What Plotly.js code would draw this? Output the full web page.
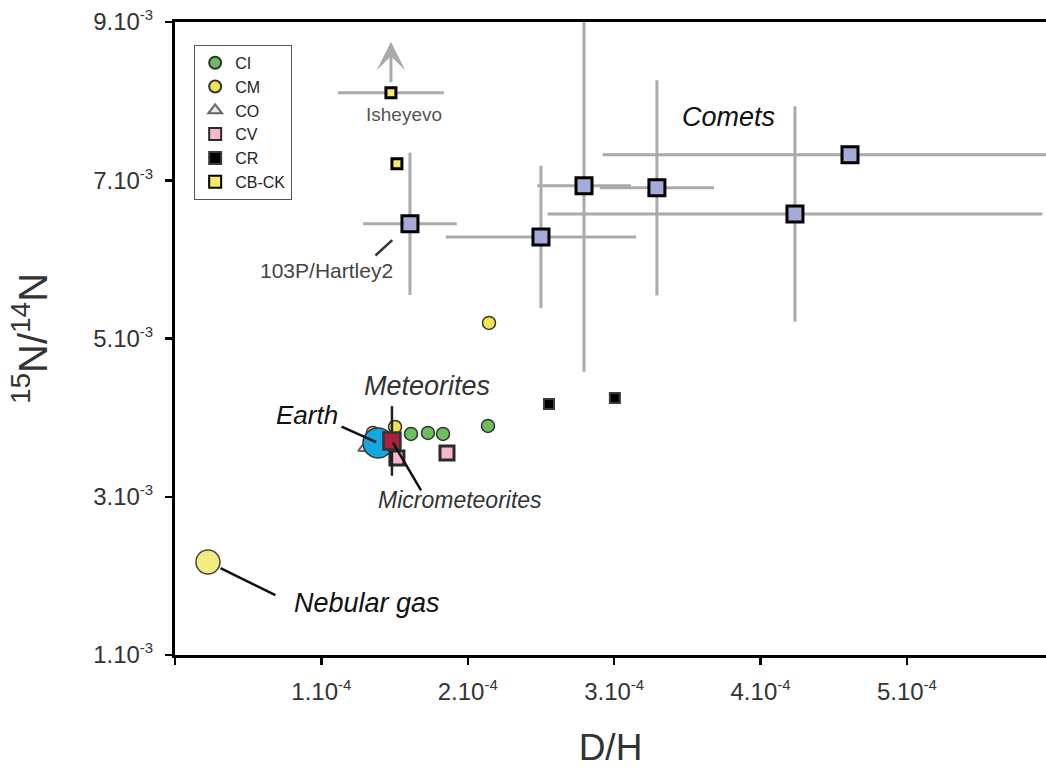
<!DOCTYPE html>
<html>
<head>
<meta charset="utf-8">
<script src="https://cdn.plot.ly/plotly-3.0.1.min.js"></script>
<style>html,body{margin:0;padding:0;background:#fff;}#chart{width:1046px;height:768px;}</style>
</head>
<body>
<div id="chart"></div>
<script>
// ---- data (D/H, 15N/14N) ----
const ciDH = [1.612e-4, 1.728e-4, 1.831e-4, 2.138e-4];
const ciN  = [3.794e-3, 3.807e-3, 3.794e-3, 3.895e-3];
const cmDH = [2.145e-4, 1.352e-4, 1.503e-4];
const cmN  = [5.197e-3, 3.807e-3, 3.882e-3];
const coDH = [1.298e-4];
const coN  = [3.617e-3];
const cvDH = [1.858e-4, 1.516e-4];
const cvN  = [3.554e-3, 3.491e-3];
const crDH = [2.555e-4, 3.005e-4];
const crN  = [4.173e-3, 4.249e-3];
const cbDH = [1.475e-4, 1.516e-4];          // Isheyevo, other CB-CK
const cbN  = [8.105e-3, 7.207e-3];
const cbErrDH = [0.362e-4, 0];
const cometNames = ['103P/Hartley2', 'C2', 'C3', 'C4', 'C5', 'C6'];
const cometDH = [1.605e-4, 2.50e-4, 2.794e-4, 3.292e-4, 4.235e-4, 4.611e-4];
const cometN  = [6.449e-3, 6.284e-3, 6.929e-3, 6.904e-3, 6.575e-3, 7.321e-3];
const cometErrDH = [0.32e-4, 0.65e-4, 0.32e-4, 0.39e-4, 1.69e-4, 1.69e-4];
const cometErrN  = [0.90e-3, 0.90e-3, 2.35e-3, 1.36e-3, 1.36e-3, 0];
const earthDH = [1.387e-4], earthN = [3.680e-3];
const microDH = [1.482e-4], microN = [3.705e-3], microErrN = [0.44e-3];
const nebDH = [0.225e-4], nebN = [2.176e-3];
const isheyevoArrowTipN = 8.75e-3;

const SUP = s => '<sup><span style="font-size:15px">' + s + '</span></sup>';
const xTickVals = [0, 1e-4, 2e-4, 3e-4, 4e-4, 5e-4];
const xTickText = ['', '1.10' + SUP('-4'), '2.10' + SUP('-4'), '3.10' + SUP('-4'), '4.10' + SUP('-4'), '5.10' + SUP('-4')];
const yTickVals = [1e-3, 3e-3, 5e-3, 7e-3, 9e-3];
const yTickText = ['1.10' + SUP('-3'), '3.10' + SUP('-3'), '5.10' + SUP('-3'), '7.10' + SUP('-3'), '9.10' + SUP('-3')];

const FONT = 'Liberation Sans, Arial, sans-serif';
const GRAY = '#aaaaaa';

const traces = [
  {name:'CO', x:coDH, y:coN, mode:'markers', legendrank:3,
   marker:{symbol:'triangle-up', size:12, color:'#e6e6e6', line:{color:'#666', width:2}}},
  {name:'CM', x:cmDH, y:cmN, mode:'markers', legendrank:2,
   marker:{symbol:'circle', size:13, color:'#f2e44e', line:{color:'#333', width:1.5}}},
  {name:'CI', x:ciDH, y:ciN, mode:'markers', legendrank:1,
   marker:{symbol:'circle', size:13, color:'#6cbd5c', line:{color:'#333', width:1.5}}},
  {name:'Earth', x:earthDH, y:earthN, mode:'markers', showlegend:false,
   marker:{symbol:'circle', size:30, color:'#12a8e0', line:{color:'#333', width:1.5}}},
  {name:'CV', x:cvDH, y:cvN, mode:'markers', legendrank:4,
   marker:{symbol:'square', size:14, color:'#f7b7cf', line:{color:'#2a2a2a', width:3}}},
  {name:'CR', x:crDH, y:crN, mode:'markers', legendrank:5,
   marker:{symbol:'square', size:10, color:'#000', line:{color:'#3a3a3a', width:2}}},
  {name:'CB-CK', x:cbDH, y:cbN, mode:'markers', legendrank:6,
   error_x:{type:'data', array:cbErrDH, color:GRAY, thickness:3, width:0},
   marker:{symbol:'square', size:10, color:'#f5ea6c', line:{color:'#000', width:3}}},
  {name:'Comets', x:cometDH, y:cometN, text:cometNames, mode:'markers', showlegend:false,
   error_x:{type:'data', array:cometErrDH, color:GRAY, thickness:3, width:0},
   error_y:{type:'data', array:cometErrN, color:GRAY, thickness:3, width:0},
   marker:{symbol:'square', size:16, color:'#a3acd9', line:{color:'#000', width:3}}},
  {name:'Nebular gas', x:nebDH, y:nebN, mode:'markers', showlegend:false,
   marker:{symbol:'circle', size:24, color:'#f2ec80', line:{color:'#444', width:1.5}}},
  {name:'Micrometeorites', x:microDH, y:microN, mode:'markers', showlegend:false,
   error_y:{type:'data', array:microErrN, color:'#222', thickness:2.5, width:0},
   marker:{symbol:'square', size:17, color:'#a82240', line:{color:'#333', width:2.5}}}
];

function label(text, x, y, size, color, italic) {
  return {text:text, x:x, y:y, xref:'x', yref:'y', showarrow:false,
          font:{family:FONT, size:size, color:color, style: italic ? 'italic' : 'normal'}};
}
function leader(x, y, ax, ay, standoff, color) {
  return {text:'', x:x, y:y, xref:'x', yref:'y', ax:ax, ay:ay, showarrow:true,
          arrowhead:0, arrowwidth:2.5, arrowcolor:color || '#111', standoff:standoff};
}

const annotations = [
  label('Comets', 3.784e-4, 7.80e-3, 27, '#111', true),
  label('Nebular gas', 1.311e-4, 1.657e-3, 27, '#111', true),
  label('Meteorites', 1.721e-4, 4.40e-3, 27, '#333', true),
  label('Earth', 0.902e-4, 4.034e-3, 26, '#111', true),
  label('Micrometeorites', 1.947e-4, 2.96e-3, 23, '#333', true),
  label('Isheyevo', 1.564e-4, 7.827e-3, 19, '#555', false),
  label('103P/Hartley2', 1.038e-4, 5.855e-3, 21, '#444', false),
  leader(earthDH[0], earthN[0], -38, -17, 2),
  leader(microDH[0], microN[0], 30, 51, 2),
  leader(nebDH[0], nebN[0], 69, 34, 14),
  leader(cometDH[0], cometN[0], -36, 33, 24, '#333'),
  {text:'', x:cbDH[0], y:isheyevoArrowTipN, xref:'x', yref:'y',
   ax:cbDH[0], ay:cbN[0], axref:'x', ayref:'y', showarrow:true,
   arrowhead:3, arrowsize:1.6, arrowwidth:3, arrowcolor:GRAY, startstandoff:9}
];

const layout = {
  width:1046, height:768,
  margin:{l:175, r:0, t:22, b:113, pad:0},
  paper_bgcolor:'#fff', plot_bgcolor:'#fff',
  font:{family:FONT, color:'#333'},
  showlegend:true,
  legend:{x:0.022, y:0.964, xanchor:'left', yanchor:'top', bgcolor:'#fff',
          bordercolor:'#555', borderwidth:1, font:{family:FONT, size:16, color:'#222'},
          itemsizing:'constant', tracegroupgap:0},
  xaxis:{range:[0, 5.95e-4], tickmode:'array', tickvals:xTickVals, ticktext:xTickText,
         showline:true, linecolor:'#000', linewidth:3, mirror:true,
         ticks:'outside', ticklen:7, tickwidth:2.5, tickcolor:'#000',
         showgrid:false, zeroline:false, ticklabelstandoff:6,
         tickfont:{family:FONT, size:24, color:'#333'},
         title:{text:'D/H', font:{family:FONT, size:37, color:'#333'}, standoff:36}},
  yaxis:{range:[1e-3, 9e-3], tickmode:'array', tickvals:yTickVals, ticktext:yTickText,
         showline:true, linecolor:'#000', linewidth:3, mirror:false,
         ticks:'outside', ticklen:7, tickwidth:2.5, tickcolor:'#000',
         showgrid:false, zeroline:false, ticklabelstandoff:7,
         tickfont:{family:FONT, size:24, color:'#333'},
         title:{text:'<sup>15</sup>N/<sup>14</sup>N', font:{family:FONT, size:40, color:'#333'}, standoff:34}},
  annotations:annotations
};

Plotly.newPlot('chart', traces, layout, {displayModeBar:false, staticPlot:true});
</script>
</body>
</html>
